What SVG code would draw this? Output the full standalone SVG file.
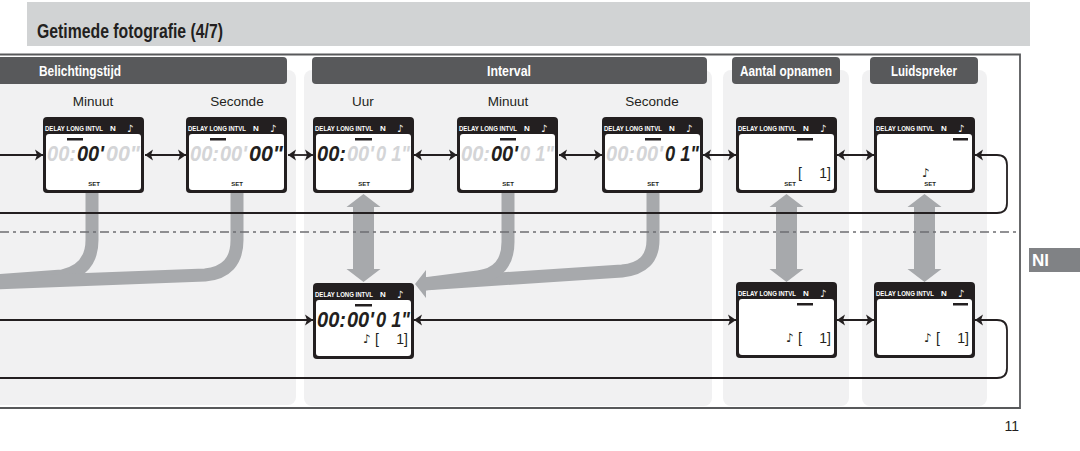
<svg xmlns="http://www.w3.org/2000/svg" width="1080" height="451" viewBox="0 0 1080 451">
<defs>
<style>
.title{font:bold 20px "Liberation Sans",sans-serif;fill:#231f20}
.hdr{fill:#58595b}
.hdrt{font:bold 14.5px "Liberation Sans",sans-serif;fill:#fff;text-anchor:middle}
.col{fill:#f1f1f2}
.sub{font:13.5px "Liberation Sans",sans-serif;fill:#231f20;text-anchor:middle}
.lcd{fill:#231f20}
.win{fill:#fff}
.lh{font:bold 8px "Liberation Sans",sans-serif;fill:#fff}
.set{font:bold 6px "Liberation Sans",sans-serif;fill:#231f20;text-anchor:middle}
.dig{font:bold italic 22px "Liberation Sans",sans-serif}
.on{fill:#231f20}
.off{fill:#d4d5d7}
.sym{font:12px "DejaVu Sans",sans-serif;fill:#231f20}
.hsym{font:10px "DejaVu Sans",sans-serif;fill:#fff}
.br{font:14px "Liberation Sans",sans-serif;fill:#231f20}
.bar{fill:#231f20}
.band{fill:none;stroke:#a7a9ac;stroke-width:13}
.garrow{fill:#a7a9ac}
.ln{fill:none;stroke:#231f20;stroke-width:1.8}
.dd{fill:none;stroke:#6d6e71;stroke-width:1.6;stroke-dasharray:9 4 3 4}
</style>
<marker id="ah" viewBox="0 -6 8 12" refX="8" refY="0" markerWidth="8" markerHeight="12" markerUnits="userSpaceOnUse" orient="auto-start-reverse">
<path d="M0,-5.5 L8,0 L0,5.5 L2,0 Z" fill="#231f20"/>
</marker>
<g id="lcdbase">
<rect class="lcd" x="0" y="0" width="101" height="76" rx="4"/>
<rect class="win" x="3" y="17" width="95" height="56" rx="3"/>
<text class="lh" x="2" y="14" textLength="58" lengthAdjust="spacingAndGlyphs">DELAY LONG INTVL</text>
<text class="lh" x="67" y="14">N</text>
<text class="hsym" x="84" y="15">♪</text>
</g>
</defs>

<!-- title -->
<g id="title">
<rect x="27" y="2" width="1003" height="44" fill="#d1d3d4"/>
<text class="title" x="37" y="38" textLength="186" lengthAdjust="spacingAndGlyphs">Getimede fotografie (4/7)</text>
</g>

<!-- frame -->
<g id="frame" fill="none" stroke="#58595b" stroke-width="1.8">
<path d="M0 54.5 H1020 V408 H0"/>
</g>

<!-- columns -->
<g id="columns">
<rect class="col" x="-10" y="70" width="306" height="335" rx="8"/>
<rect class="col" x="304" y="70" width="408" height="336" rx="8"/>
<rect class="col" x="723" y="70" width="126" height="336" rx="8"/>
<rect class="col" x="862" y="70" width="125" height="336" rx="8"/>
<rect class="hdr" x="-6" y="57" width="293" height="27" rx="4"/>
<rect class="hdr" x="312" y="57" width="395" height="27" rx="4"/>
<rect class="hdr" x="732" y="57" width="108" height="27" rx="4"/>
<rect class="hdr" x="870" y="57" width="108" height="27" rx="4"/>
<text class="hdrt" x="80" y="75.5" textLength="82" lengthAdjust="spacingAndGlyphs">Belichtingstijd</text>
<text class="hdrt" x="509" y="75.5" textLength="44" lengthAdjust="spacingAndGlyphs">Interval</text>
<text class="hdrt" x="786" y="75.5" textLength="92" lengthAdjust="spacingAndGlyphs">Aantal opnamen</text>
<text class="hdrt" x="924" y="75.5" textLength="66" lengthAdjust="spacingAndGlyphs">Luidspreker</text>
<text class="sub" x="93" y="106">Minuut</text>
<text class="sub" x="237" y="106">Seconde</text>
<text class="sub" x="363" y="106">Uur</text>
<text class="sub" x="508" y="106">Minuut</text>
<text class="sub" x="652" y="106">Seconde</text>
</g>

<!-- gray flow arrows -->
<g id="gray-arrows">
<path class="band" d="M92 193 V240 Q92 270 62 276 L-5 281"/>
<path class="band" d="M237 193 V240 Q237 272 205 275 L-5 283"/>
<path class="band" d="M653 193 V240 Q653 268 622 271 L424 284"/>
<path class="band" d="M508 193 V242 Q508 273 478 277 L424 284"/>
<polygon class="garrow" points="415,284 426,270 426,298"/>
<polygon class="garrow" points="363.5,194 380.5,207 374,207 374,269 380.5,269 363.5,282 346.5,269 353,269 353,207 346.5,207"/>
<polygon class="garrow" points="786.5,194 803.5,207 797,207 797,269 803.5,269 786.5,282 769.5,269 776,269 776,207 769.5,207"/>
<polygon class="garrow" points="924.5,194 941.5,207 935,207 935,269 941.5,269 924.5,282 907.5,269 914,269 914,207 907.5,207"/>
</g>

<!-- connectors -->
<g id="connectors">
<path class="dd" d="M0 232 H1018"/>
<path class="ln" d="M0 155 H43" marker-end="url(#ah)"/>
<path class="ln" d="M145 155 H186" marker-start="url(#ah)" marker-end="url(#ah)"/>
<path class="ln" d="M288 155 H313" marker-start="url(#ah)" marker-end="url(#ah)"/>
<path class="ln" d="M414 155 H457" marker-start="url(#ah)" marker-end="url(#ah)"/>
<path class="ln" d="M559 155 H602" marker-start="url(#ah)" marker-end="url(#ah)"/>
<path class="ln" d="M703 155 H736" marker-start="url(#ah)" marker-end="url(#ah)"/>
<path class="ln" d="M837 155 H874" marker-start="url(#ah)" marker-end="url(#ah)"/>
<path class="ln" d="M0 213 H997 Q1007 213 1007 203 V165 Q1007 155 997 155 H975" marker-end="url(#ah)"/>
<path class="ln" d="M0 320 H313" marker-end="url(#ah)"/>
<path class="ln" d="M414 320 H736" marker-start="url(#ah)" marker-end="url(#ah)"/>
<path class="ln" d="M837 320 H874" marker-start="url(#ah)" marker-end="url(#ah)"/>
<path class="ln" d="M0 378 H997 Q1007 378 1007 368 V330 Q1007 320 997 320 H975" marker-end="url(#ah)"/>
</g>

<!-- LCD nodes, top row -->
<g id="lcd-bel-min" transform="translate(43,117)">
<use href="#lcdbase"/>
<rect class="bar" x="24" y="21" width="16" height="2.5"/>
<text class="dig off" x="4" y="44" textLength="29" lengthAdjust="spacingAndGlyphs">00:</text>
<text class="dig on" x="34" y="44" textLength="27" lengthAdjust="spacingAndGlyphs">00'</text>
<text class="dig off" x="63" y="44" textLength="34" lengthAdjust="spacingAndGlyphs">00"</text>
<text class="set" x="51" y="69">SET</text>
</g>
<g id="lcd-bel-sec" transform="translate(186,117)">
<use href="#lcdbase"/>
<rect class="bar" x="24" y="21" width="16" height="2.5"/>
<text class="dig off" x="4" y="44" textLength="29" lengthAdjust="spacingAndGlyphs">00:</text>
<text class="dig off" x="34" y="44" textLength="27" lengthAdjust="spacingAndGlyphs">00'</text>
<text class="dig on" x="63" y="44" textLength="34" lengthAdjust="spacingAndGlyphs">00"</text>
<text class="set" x="51" y="69">SET</text>
</g>
<g id="lcd-int-uur" transform="translate(313,117)">
<use href="#lcdbase"/>
<rect class="bar" x="42" y="21" width="17" height="2.5"/>
<text class="dig on" x="4" y="44" textLength="29" lengthAdjust="spacingAndGlyphs">00:</text>
<text class="dig off" x="34" y="44" textLength="27" lengthAdjust="spacingAndGlyphs">00'</text>
<text class="dig off" x="63" y="44" textLength="34" lengthAdjust="spacingAndGlyphs">0 1"</text>
<text class="set" x="51" y="69">SET</text>
</g>
<g id="lcd-int-min" transform="translate(457,117)">
<use href="#lcdbase"/>
<rect class="bar" x="43" y="21" width="16" height="2.5"/>
<text class="dig off" x="4" y="44" textLength="29" lengthAdjust="spacingAndGlyphs">00:</text>
<text class="dig on" x="34" y="44" textLength="27" lengthAdjust="spacingAndGlyphs">00'</text>
<text class="dig off" x="63" y="44" textLength="34" lengthAdjust="spacingAndGlyphs">0 1"</text>
<text class="set" x="51" y="69">SET</text>
</g>
<g id="lcd-int-sec" transform="translate(602,117)">
<use href="#lcdbase"/>
<rect class="bar" x="43" y="21" width="16" height="2.5"/>
<text class="dig off" x="4" y="44" textLength="29" lengthAdjust="spacingAndGlyphs">00:</text>
<text class="dig off" x="34" y="44" textLength="27" lengthAdjust="spacingAndGlyphs">00'</text>
<text class="dig on" x="63" y="44" textLength="34" lengthAdjust="spacingAndGlyphs">0 1"</text>
<text class="set" x="51" y="69">SET</text>
</g>
<g id="lcd-aantal" transform="translate(736,117)">
<use href="#lcdbase"/>
<rect class="bar" x="61" y="21" width="16" height="2.5"/>
<text class="br" x="62" y="61">[</text>
<text class="br" x="95" y="61" text-anchor="end">1]</text>
<text class="set" x="54" y="69">SET</text>
</g>
<g id="lcd-luid" transform="translate(874,117)">
<use href="#lcdbase"/>
<rect class="bar" x="79" y="21" width="15" height="2.5"/>
<text class="sym" x="48" y="60">♪</text>
<text class="set" x="56" y="69">SET</text>
</g>

<!-- LCD nodes, bottom row -->
<g id="lcd-int-result" transform="translate(313,283)">
<use href="#lcdbase"/>
<rect class="bar" x="42" y="21" width="17" height="2.5"/>
<text class="dig on" x="4" y="44" textLength="29" lengthAdjust="spacingAndGlyphs">00:</text>
<text class="dig on" x="34" y="44" textLength="27" lengthAdjust="spacingAndGlyphs">00'</text>
<text class="dig on" x="63" y="44" textLength="34" lengthAdjust="spacingAndGlyphs">0 1"</text>
<text class="sym" x="50" y="60">♪</text>
<text class="br" x="62" y="61">[</text>
<text class="br" x="95" y="61" text-anchor="end">1]</text>
</g>
<g id="lcd-aantal-result" transform="translate(736,282)">
<use href="#lcdbase"/>
<rect class="bar" x="61" y="21" width="16" height="2.5"/>
<text class="sym" x="50" y="60">♪</text>
<text class="br" x="62" y="61">[</text>
<text class="br" x="95" y="61" text-anchor="end">1]</text>
</g>
<g id="lcd-luid-result" transform="translate(874,282)">
<use href="#lcdbase"/>
<rect class="bar" x="79" y="21" width="15" height="2.5"/>
<text class="sym" x="50" y="60">♪</text>
<text class="br" x="62" y="61">[</text>
<text class="br" x="95" y="61" text-anchor="end">1]</text>
</g>

<!-- language tab and page number -->
<g id="lang-tab">
<rect x="1029" y="248" width="51" height="24" fill="#808285"/>
<text x="1032" y="266" style="font:bold 17px 'Liberation Sans',sans-serif;fill:#fff">Nl</text>
</g>
<text id="page" x="1019" y="431" text-anchor="end" style="font:14px 'Liberation Sans',sans-serif;fill:#231f20">11</text>
</svg>
